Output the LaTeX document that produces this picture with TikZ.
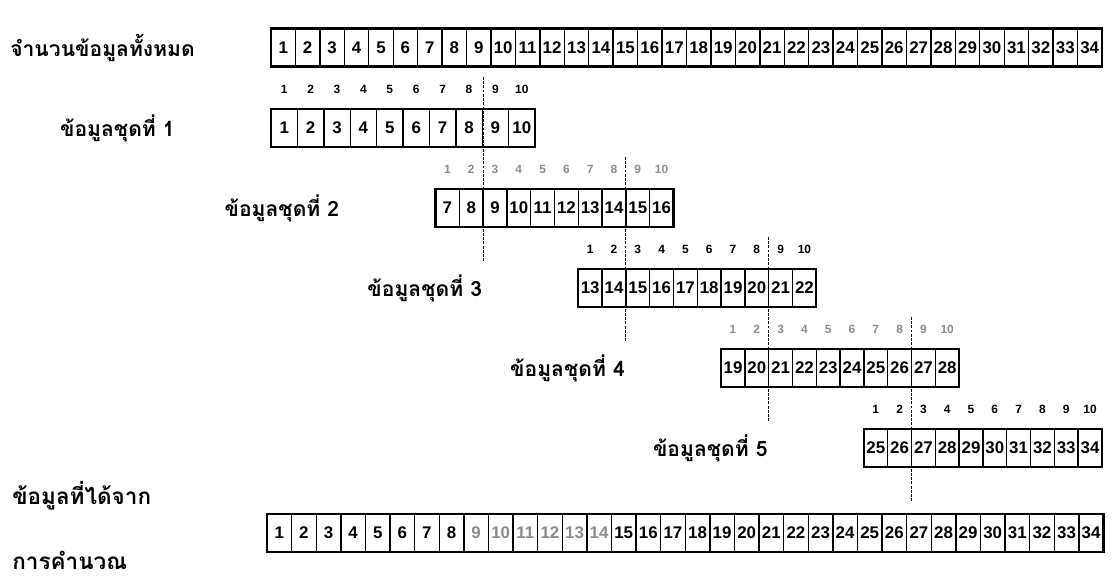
\documentclass[tikz,border=0pt]{standalone}
\usepackage{fontspec}
\setmainfont{Liberation Sans}
\newfontfamily\thaifont[Script=Thai]{Loma}
\usetikzlibrary{positioning, calc}

\begin{document}
\begin{tikzpicture}[
    cell/.style={rectangle, draw, line width=1pt, minimum height=0.95cm,
                 inner sep=0pt, outer sep=0pt, anchor=west,
                 font=\bfseries\fontsize{12}{12}\selectfont},
    frame/.style={draw, line width=1.6pt},
    idx/.style={inner sep=0pt, font=\bfseries\fontsize{8.5}{9}\selectfont},
    setlabel/.style={inner sep=0pt, font=\thaifont\bfseries\fontsize{15}{18}\selectfont},
    guide/.style={line width=0.6pt, dash pattern=on 2pt off 1pt}
]
\useasboundingbox (0,0) rectangle (27.8,-14.45);

\node[setlabel, anchor=west] (ltop) at (0.25,-1.19) {จำนวนข้อมูลทั้งหมด};
\foreach \i in {1,...,34}
  \node[cell, minimum width=0.611cm] (t\i) at ({6.775+(\i-1)*0.611},-1.19) {\i};
\draw[frame] (t1.north west) rectangle (t34.south east);

\foreach \i in {1,...,10}
  \node[cell, minimum width=0.66cm] (s1-\i) at ({6.775+(\i-1)*0.66},-3.2) {\i};

\foreach \k in {2,...,5}
  \foreach \i in {1,...,10} {
    \pgfmathtruncatemacro{\v}{6*(\k-1)+\i}
    \node[cell, minimum width=0.595cm] (s\k-\i) at ({10.8875+(\k-2)*3.57+(\i-1)*0.595},{-3.2-(\k-1)*2}) {\v};
  }

\foreach \k/\c in {1/black,2/black!45,3/black,4/black!45,5/black} {
  \draw[frame] (s\k-1.north west) rectangle (s\k-10.south east);
  \node[setlabel, left=2.4cm of s\k-1] (l\k) {ข้อมูลชุดที่ \k};
  \foreach \i in {1,...,10}
    \node[idx, text=\c] (n\k-\i) at ($(s\k-\i.north)+(0,0.5)$) {\i};
  \coordinate (top\k) at ($(s\k-1.north)+(0,0.8)$);
}

\foreach \k/\n in {1/2,2/3,3/4,4/5} {
  \coordinate (end\k) at ($(s\n-2.south east)+(0,-0.85)$);
  \draw[guide] (s\n-2.east |- top\k) -- (end\k);
}

\node[setlabel, anchor=west, font=\thaifont\bfseries\fontsize{16}{18}\selectfont] (lres) at (0.3,-12.4) {ข้อมูลที่ได้จาก};
\node[setlabel, anchor=west, font=\thaifont\bfseries\fontsize{16}{18}\selectfont] (lcalc) at (0.3,-14.0) {การคำนวณ};
\foreach \i in {1,...,34} {
  \pgfmathsetmacro{\fade}{(\i>8 && \i<15) ? 45 : 100}
  \node[cell, minimum width=0.615cm, text=black!\fade] (b\i) at ({6.675+(\i-1)*0.615},-13.325) {\i};
}
\draw[frame] (b1.north west) rectangle (b34.south east);

\end{tikzpicture}
\end{document}
